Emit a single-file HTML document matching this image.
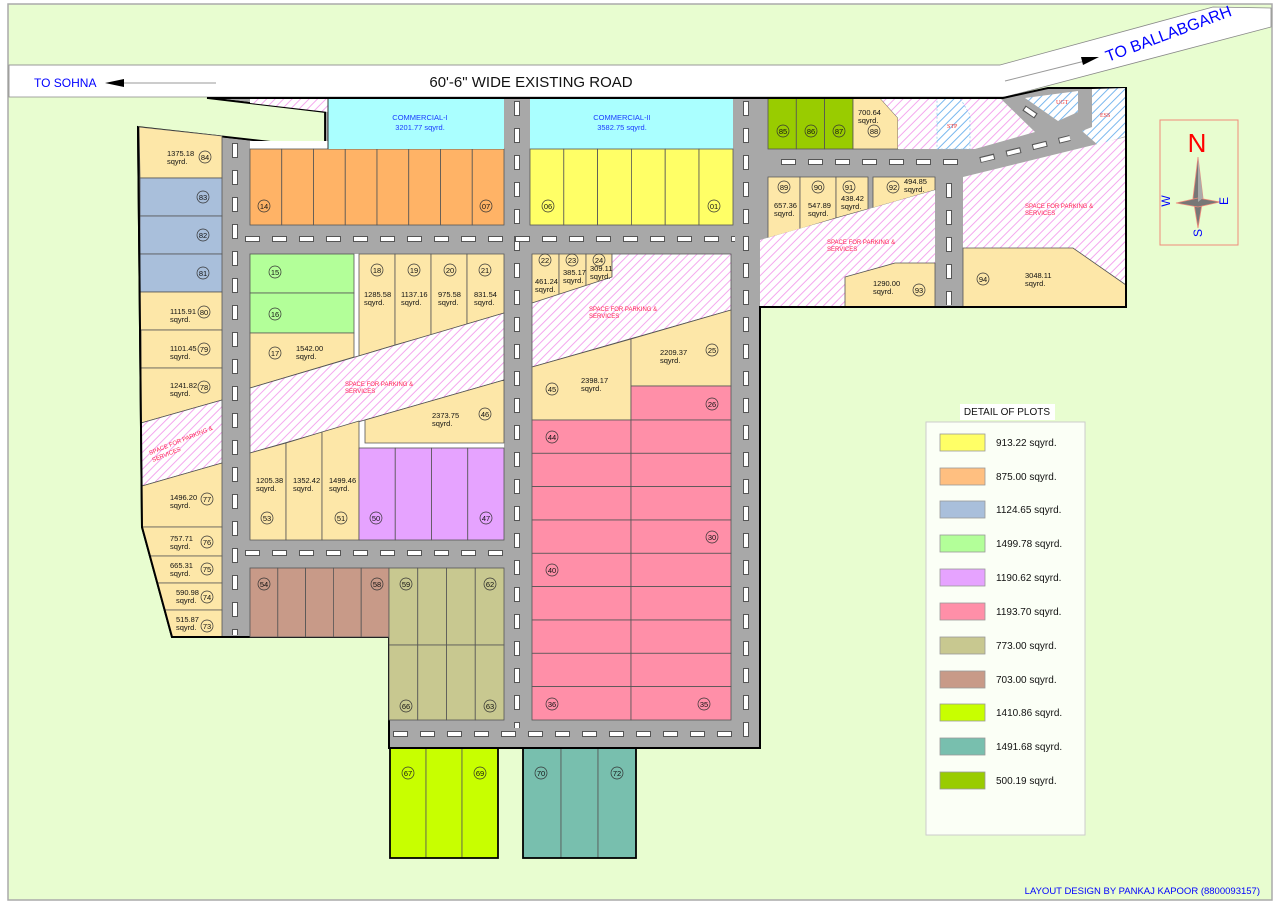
<!DOCTYPE html>
<html><head><meta charset="utf-8"><style>
html,body{margin:0;padding:0;background:#fff;}
svg{display:block;font-family:"Liberation Sans",Verdana,sans-serif;}
.p{stroke:#555;stroke-width:0.8;}
.t{font-size:7.5px;fill:#111;}
.c circle{fill:none;stroke:#333;stroke-width:0.7;}
.r{font-size:6px;fill:#ff2255;}
</style></head><body>
<svg width="1280" height="909" viewBox="0 0 1280 909" xmlns="http://www.w3.org/2000/svg">
<defs>
<pattern id="ph" width="6" height="6" patternUnits="userSpaceOnUse" patternTransform="rotate(45)">
<rect width="6" height="6" fill="#fff"/><line x1="0" y1="0" x2="0" y2="6" stroke="#f4a8ee" stroke-width="2"/></pattern>
<pattern id="bh" width="6" height="6" patternUnits="userSpaceOnUse" patternTransform="rotate(45)">
<rect width="6" height="6" fill="#fff"/><line x1="0" y1="0" x2="0" y2="6" stroke="#7ab8ee" stroke-width="2"/></pattern>
</defs>
<rect x="8" y="4" width="1264" height="896" fill="#e8fdd0" stroke="#aaa" stroke-width="1.5"/>
<polygon points="9,65 1000,65 1213,7 1271,8 1271,27 1005,97 9,97" fill="#fff" stroke="#888" stroke-width="0.8"/>
<line x1="9" y1="65" x2="1000" y2="65" stroke="#999"/>
<text x="34" y="87" font-size="12" fill="#00f">TO SOHNA</text>
<line x1="120" y1="83" x2="216" y2="83" stroke="#999" stroke-width="1"/>
<polygon points="105,83 124,79 124,87" fill="#000"/>
<text x="531" y="87" font-size="15" text-anchor="middle" fill="#111">60'-6" WIDE EXISTING ROAD</text>
<line x1="1005" y1="81" x2="1085" y2="61" stroke="#999"/>
<polygon points="1099,57 1081,57 1083,65" fill="#000"/>
<text x="1108" y="62" font-size="16" fill="#00f" transform="rotate(-20.5 1108 62)">TO BALLABGARH</text>

<polygon points="207,98 1003,98 1048,88 1126,88 1126,307 760,307 760,748 389,748 389,637 172,637 142,527 138,127 325,148 325,112" fill="#a8a8a8" stroke="#000" stroke-width="2"/>
<polygon points="207,98 325,112 325,148 138,127 138,98" fill="#e8fdd0"/>
<polyline points="207,98 325,112 325,148 138,127" fill="none" stroke="#000" stroke-width="1.8"/>
<polygon points="250,98 328,98 328,112 250,103" fill="url(#ph)"/>
<rect x="250" y="141" width="78" height="8" fill="#fff"/>

<g fill="none">
<line x1="235" y1="143" x2="235" y2="635" stroke="#555" stroke-width="6" stroke-dasharray="15 12"/>
<line x1="235" y1="144" x2="235" y2="635" stroke="#fff" stroke-width="4" stroke-dasharray="13 14"/>
<line x1="517" y1="101" x2="517" y2="728" stroke="#555" stroke-width="6" stroke-dasharray="15 12"/>
<line x1="517" y1="102" x2="517" y2="728" stroke="#fff" stroke-width="4" stroke-dasharray="13 14"/>
<line x1="746" y1="101" x2="746" y2="740" stroke="#555" stroke-width="6" stroke-dasharray="15 12"/>
<line x1="746" y1="102" x2="746" y2="740" stroke="#fff" stroke-width="4" stroke-dasharray="13 14"/>
<line x1="949" y1="183" x2="949" y2="305" stroke="#555" stroke-width="6" stroke-dasharray="15 12"/>
<line x1="949" y1="184" x2="949" y2="305" stroke="#fff" stroke-width="4" stroke-dasharray="13 14"/>
<line x1="245" y1="239" x2="735" y2="239" stroke="#555" stroke-width="6" stroke-dasharray="15 12"/>
<line x1="246" y1="239" x2="735" y2="239" stroke="#fff" stroke-width="4" stroke-dasharray="13 14"/>
<line x1="245" y1="553" x2="505" y2="553" stroke="#555" stroke-width="6" stroke-dasharray="15 12"/>
<line x1="246" y1="553" x2="505" y2="553" stroke="#fff" stroke-width="4" stroke-dasharray="13 14"/>
<line x1="393" y1="734" x2="740" y2="734" stroke="#555" stroke-width="6" stroke-dasharray="15 12"/>
<line x1="394" y1="734" x2="740" y2="734" stroke="#fff" stroke-width="4" stroke-dasharray="13 14"/>
<line x1="781" y1="162" x2="963" y2="162" stroke="#555" stroke-width="6" stroke-dasharray="15 12"/>
<line x1="782" y1="162" x2="963" y2="162" stroke="#fff" stroke-width="4" stroke-dasharray="13 14"/>
<line x1="980" y1="160" x2="1070" y2="138" stroke="#555" stroke-width="6" stroke-dasharray="15 12"/>
<line x1="981" y1="160" x2="1070" y2="138" stroke="#fff" stroke-width="4" stroke-dasharray="13 14"/>
<line x1="1024" y1="108" x2="1036" y2="116" stroke="#555" stroke-width="6"/>
<line x1="1025" y1="108.5" x2="1035" y2="115.5" stroke="#fff" stroke-width="4"/>
</g>

<g class="p">
<polygon points="139,127 222,136 222,178 140,178" fill="#fde7a8"/>
<rect x="140" y="178" width="82" height="38" fill="#a9bfdb"/>
<rect x="140" y="216" width="82" height="38" fill="#a9bfdb"/>
<rect x="140" y="254" width="82" height="38" fill="#a9bfdb"/>
<rect x="140" y="292" width="82" height="38" fill="#fde7a8"/>
<rect x="141" y="330" width="81" height="38" fill="#fde7a8"/>
<polygon points="141,368 222,368 222,400 141,423" fill="#fde7a8"/>
<polygon points="141,423 222,400 222,463 142,486" fill="url(#ph)"/>
<polygon points="142,486 222,463 222,527 142,527" fill="#fde7a8"/>
<polygon points="142,527 222,527 222,556 150,556" fill="#fde7a8"/>
<polygon points="150,556 222,556 222,583 157,583" fill="#fde7a8"/>
<polygon points="157,583 222,583 222,610 165,610" fill="#fde7a8"/>
<polygon points="165,610 222,610 222,637 172,637" fill="#fde7a8"/>
</g>
<polyline points="138,127 142,527 172,637 248,637" fill="none" stroke="#000" stroke-width="2"/>

<g class="p" fill="#ffb366">
<rect x="250" y="149" width="31.75" height="76"/><rect x="281.75" y="149" width="31.75" height="76"/>
<rect x="313.5" y="149" width="31.75" height="76"/><rect x="345.25" y="149" width="31.75" height="76"/>
<rect x="377" y="149" width="31.75" height="76"/><rect x="408.75" y="149" width="31.75" height="76"/>
<rect x="440.5" y="149" width="31.75" height="76"/><rect x="472.25" y="149" width="31.75" height="76"/>
</g>
<rect x="328" y="98" width="176" height="51" fill="#aaffff"/>
<line x1="328" y1="98" x2="328" y2="149" stroke="#333" stroke-width="1"/>
<text x="420" y="120" font-size="7.5" fill="#1a3aff" text-anchor="middle">COMMERCIAL-I</text>
<text x="420" y="130" font-size="7.5" fill="#1a3aff" text-anchor="middle">3201.77 sqyrd.</text>
<rect x="530" y="98" width="203" height="51" fill="#aaffff"/>
<text x="622" y="120" font-size="7.5" fill="#1a3aff" text-anchor="middle">COMMERCIAL-II</text>
<text x="622" y="130" font-size="7.5" fill="#1a3aff" text-anchor="middle">3582.75 sqyrd.</text>
<g class="p" fill="#ffff66">
<rect x="530" y="149" width="33.8" height="76"/><rect x="563.8" y="149" width="33.8" height="76"/>
<rect x="597.6" y="149" width="33.8" height="76"/><rect x="631.4" y="149" width="33.8" height="76"/>
<rect x="665.2" y="149" width="33.8" height="76"/><rect x="699" y="149" width="34" height="76"/>
</g>

<rect x="250" y="254" width="254" height="286" fill="#fff"/>
<g class="p">
<rect x="250" y="254" width="104" height="39" fill="#b3ff99"/>
<rect x="250" y="293" width="104" height="40" fill="#b3ff99"/>
<polygon points="250,333 354,333 354,357 250,388" fill="#fde7a8"/>
<polygon points="359,254 395,254 395,345 359,356" fill="#fde7a8"/>
<polygon points="395,254 431,254 431,335 395,345" fill="#fde7a8"/>
<polygon points="431,254 467,254 467,324 431,335" fill="#fde7a8"/>
<polygon points="467,254 504,254 504,313 467,324" fill="#fde7a8"/>
<polygon points="250,388 504,313 504,380 250,453" fill="url(#ph)"/>
<polygon points="365,420 504,380 504,443 365,443" fill="#fde7a8"/>
<polygon points="250,453 286,443 286,540 250,540" fill="#fde7a8"/>
<polygon points="286,443 322,432 322,540 286,540" fill="#fde7a8"/>
<polygon points="322,432 359,421 359,540 322,540" fill="#fde7a8"/>
<rect x="359" y="448" width="36.25" height="92" fill="#e6a3ff"/><rect x="395.25" y="448" width="36.25" height="92" fill="#e6a3ff"/>
<rect x="431.5" y="448" width="36.25" height="92" fill="#e6a3ff"/><rect x="467.75" y="448" width="36.25" height="92" fill="#e6a3ff"/>
</g>
<text class="r" x="345" y="386">SPACE FOR PARKING &amp;</text><text class="r" x="345" y="393">SERVICES</text>

<g class="p">
<rect x="250" y="568" width="27.8" height="69" fill="#c89a88"/><rect x="277.8" y="568" width="27.8" height="69" fill="#c89a88"/>
<rect x="305.6" y="568" width="27.8" height="69" fill="#c89a88"/><rect x="333.4" y="568" width="27.8" height="69" fill="#c89a88"/>
<rect x="361.2" y="568" width="27.8" height="69" fill="#c89a88"/>
<rect x="389" y="568" width="28.75" height="77" fill="#c8c890"/><rect x="417.75" y="568" width="28.75" height="77" fill="#c8c890"/>
<rect x="446.5" y="568" width="28.75" height="77" fill="#c8c890"/><rect x="475.25" y="568" width="28.75" height="77" fill="#c8c890"/>
<rect x="389" y="645" width="28.75" height="75" fill="#c8c890"/><rect x="417.75" y="645" width="28.75" height="75" fill="#c8c890"/>
<rect x="446.5" y="645" width="28.75" height="75" fill="#c8c890"/><rect x="475.25" y="645" width="28.75" height="75" fill="#c8c890"/>
</g>
<g class="p">
<rect x="390" y="748" width="36" height="110" fill="#c8ff00"/><rect x="426" y="748" width="36" height="110" fill="#c8ff00"/><rect x="462" y="748" width="36" height="110" fill="#c8ff00"/>
<rect x="523" y="748" width="38" height="110" fill="#78bfae"/><rect x="561" y="748" width="37" height="110" fill="#78bfae"/><rect x="598" y="748" width="38" height="110" fill="#78bfae"/>
</g>
<rect x="390" y="748" width="108" height="110" fill="none" stroke="#000" stroke-width="1.8"/>
<rect x="523" y="748" width="113" height="110" fill="none" stroke="#000" stroke-width="1.8"/>

<g class="p">
<polygon points="532,254 559,254 559,297 532,303" fill="#fde7a8"/>
<polygon points="559,254 586,254 586,288 559,297" fill="#fde7a8"/>
<polygon points="586,254 612,254 612,277 586,288" fill="#fde7a8"/>
<polygon points="532,303 612,277 612,254 731,254 731,310 532,367" fill="url(#ph)"/>
<polygon points="532,367 631,339 631,420 532,420" fill="#fde7a8"/>
<polygon points="631,339 731,310 731,386 631,386" fill="#fde7a8"/>
<rect x="631" y="386" width="100" height="34" fill="#ff8fa8"/>
</g>
<g class="p" fill="#ff8fa8">
<rect x="532" y="420" width="99" height="33.3"/><rect x="631" y="420" width="100" height="33.3"/>
<rect x="532" y="453.3" width="99" height="33.3"/><rect x="631" y="453.3" width="100" height="33.3"/>
<rect x="532" y="486.6" width="99" height="33.3"/><rect x="631" y="486.6" width="100" height="33.3"/>
<rect x="532" y="520" width="99" height="33.3"/><rect x="631" y="520" width="100" height="33.3"/>
<rect x="532" y="553.3" width="99" height="33.3"/><rect x="631" y="553.3" width="100" height="33.3"/>
<rect x="532" y="586.6" width="99" height="33.3"/><rect x="631" y="586.6" width="100" height="33.3"/>
<rect x="532" y="620" width="99" height="33.3"/><rect x="631" y="620" width="100" height="33.3"/>
<rect x="532" y="653.3" width="99" height="33.3"/><rect x="631" y="653.3" width="100" height="33.3"/>
<rect x="532" y="686.6" width="99" height="33.4"/><rect x="631" y="686.6" width="100" height="33.4"/>
</g>
<text class="r" x="589" y="311">SPACE FOR PARKING &amp;</text><text class="r" x="589" y="318">SERVICES</text>

<g class="p">
<rect x="768" y="98" width="28.3" height="51" fill="#99cc00"/><rect x="796.3" y="98" width="28.3" height="51" fill="#99cc00"/><rect x="824.6" y="98" width="28.4" height="51" fill="#99cc00"/>
<polygon points="853,98 880,98 898,118 898,149 853,149" fill="#fde7a8"/>
</g>
<polygon points="880,98 1000,98 1035,132 975,149 898,149 898,118" fill="url(#ph)"/>
<polygon points="937,98 960,98 970,115 970,149 937,149" fill="url(#bh)" stroke="#7ab8ee" stroke-width="0.6" stroke-dasharray="2 2"/>
<text x="947" y="128" font-size="6" fill="#e33" font-family="Liberation Serif">STP</text>
<polygon points="1025,98 1078,91 1078,112 1058,121" fill="url(#bh)"/>
<text x="1056" y="104" font-size="6" fill="#e33" font-family="Liberation Serif">UGT</text>
<polygon points="1092,89 1126,88 1126,136 1098,145 1082,131 1092,127" fill="url(#bh)"/>
<text x="1100" y="117" font-size="6" fill="#e33" font-family="Liberation Serif">ESS</text>
<g class="p">
<polygon points="768,177 800,177 800,229 768,238" fill="#fde7a8"/>
<polygon points="800,177 836,177 836,218 800,229" fill="#fde7a8"/>
<polygon points="836,177 868,177 868,209 836,218" fill="#fde7a8"/>
<polygon points="873,177 935,177 935,190 873,208" fill="#fde7a8"/>
</g>
<polygon points="760,240 935,190 935,307 760,307" fill="url(#ph)"/>
<polygon class="p" points="845,277 895,263 935,263 935,307 845,307" fill="#fde7a8"/>
<polygon points="963,177 1126,137 1126,307 963,307" fill="url(#ph)"/>
<polygon class="p" points="963,248 1073,248 1126,285 1126,307 963,307" fill="#fde7a8"/>
<text class="r" x="827" y="244">SPACE FOR PARKING &amp;</text><text class="r" x="827" y="251">SERVICES</text>
<text class="r" x="1025" y="208">SPACE FOR PARKING &amp;</text><text class="r" x="1025" y="215">SERVICES</text>
<polyline points="760,307 1126,307 1126,88" fill="none" stroke="#000" stroke-width="2"/>
<polyline points="760,307 760,748 389,748" fill="none" stroke="#000" stroke-width="2"/>
<line x1="207" y1="98" x2="1003" y2="98" stroke="#000" stroke-width="2"/>
<text class="r" transform="rotate(-22 150 455)" x="150" y="455">SPACE FOR PARKING &amp;</text>
<text class="r" transform="rotate(-22 153 462)" x="153" y="462">SERVICES</text>

<g class="t">
<text x="167" y="156">1375.18</text><text x="167" y="164">sqyrd.</text>
<text x="170" y="314">1115.91</text><text x="170" y="322">sqyrd.</text>
<text x="170" y="351">1101.45</text><text x="170" y="359">sqyrd.</text>
<text x="170" y="388">1241.82</text><text x="170" y="396">sqyrd.</text>
<text x="170" y="500">1496.20</text><text x="170" y="508">sqyrd.</text>
<text x="170" y="541">757.71</text><text x="170" y="549">sqyrd.</text>
<text x="170" y="568">665.31</text><text x="170" y="576">sqyrd.</text>
<text x="176" y="595">590.98</text><text x="176" y="603">sqyrd.</text>
<text x="176" y="622">515.87</text><text x="176" y="630">sqyrd.</text>
<text x="296" y="351">1542.00</text><text x="296" y="359">sqyrd.</text>
<text x="364" y="297">1285.58</text><text x="364" y="305">sqyrd.</text>
<text x="401" y="297">1137.16</text><text x="401" y="305">sqyrd.</text>
<text x="438" y="297">975.58</text><text x="438" y="305">sqyrd.</text>
<text x="474" y="297">831.54</text><text x="474" y="305">sqyrd.</text>
<text x="432" y="418">2373.75</text><text x="432" y="426">sqyrd.</text>
<text x="256" y="483">1205.38</text><text x="256" y="491">sqyrd.</text>
<text x="293" y="483">1352.42</text><text x="293" y="491">sqyrd.</text>
<text x="329" y="483">1499.46</text><text x="329" y="491">sqyrd.</text>
<text x="535" y="284">461.24</text><text x="535" y="292">sqyrd.</text>
<text x="563" y="275">385.17</text><text x="563" y="283">sqyrd.</text>
<text x="590" y="271">309.11</text><text x="590" y="279">sqyrd.</text>
<text x="581" y="383">2398.17</text><text x="581" y="391">sqyrd.</text>
<text x="660" y="355">2209.37</text><text x="660" y="363">sqyrd.</text>
<text x="858" y="115">700.64</text><text x="858" y="123">sqyrd.</text>
<text x="774" y="208">657.36</text><text x="774" y="216">sqyrd.</text>
<text x="808" y="208">547.89</text><text x="808" y="216">sqyrd.</text>
<text x="841" y="201">438.42</text><text x="841" y="209">sqyrd.</text>
<text x="904" y="184">494.85</text><text x="904" y="192">sqyrd.</text>
<text x="873" y="286">1290.00</text><text x="873" y="294">sqyrd.</text>
<text x="1025" y="278">3048.11</text><text x="1025" y="286">sqyrd.</text>
</g>

<g class="c" font-size="7.5" text-anchor="middle" fill="#111">
<g><circle cx="205" cy="157" r="6"/><text x="205" y="160">84</text></g>
<g><circle cx="203" cy="197" r="6"/><text x="203" y="200">83</text></g>
<g><circle cx="203" cy="235" r="6"/><text x="203" y="238">82</text></g>
<g><circle cx="203" cy="273" r="6"/><text x="203" y="276">81</text></g>
<g><circle cx="204" cy="312" r="6"/><text x="204" y="315">80</text></g>
<g><circle cx="204" cy="349" r="6"/><text x="204" y="352">79</text></g>
<g><circle cx="204" cy="387" r="6"/><text x="204" y="390">78</text></g>
<g><circle cx="207" cy="499" r="6"/><text x="207" y="502">77</text></g>
<g><circle cx="207" cy="542" r="6"/><text x="207" y="545">76</text></g>
<g><circle cx="207" cy="569" r="6"/><text x="207" y="572">75</text></g>
<g><circle cx="207" cy="597" r="6"/><text x="207" y="600">74</text></g>
<g><circle cx="207" cy="626" r="6"/><text x="207" y="629">73</text></g>
<g><circle cx="264" cy="206" r="6"/><text x="264" y="209">14</text></g>
<g><circle cx="486" cy="206" r="6"/><text x="486" y="209">07</text></g>
<g><circle cx="548" cy="206" r="6"/><text x="548" y="209">06</text></g>
<g><circle cx="714" cy="206" r="6"/><text x="714" y="209">01</text></g>
<g><circle cx="275" cy="272" r="6"/><text x="275" y="275">15</text></g>
<g><circle cx="275" cy="314" r="6"/><text x="275" y="317">16</text></g>
<g><circle cx="275" cy="353" r="6"/><text x="275" y="356">17</text></g>
<g><circle cx="377" cy="270" r="6"/><text x="377" y="273">18</text></g>
<g><circle cx="414" cy="270" r="6"/><text x="414" y="273">19</text></g>
<g><circle cx="450" cy="270" r="6"/><text x="450" y="273">20</text></g>
<g><circle cx="485" cy="270" r="6"/><text x="485" y="273">21</text></g>
<g><circle cx="485" cy="414" r="6"/><text x="485" y="417">46</text></g>
<g><circle cx="267" cy="518" r="6"/><text x="267" y="521">53</text></g>
<g><circle cx="341" cy="518" r="6"/><text x="341" y="521">51</text></g>
<g><circle cx="376" cy="518" r="6"/><text x="376" y="521">50</text></g>
<g><circle cx="486" cy="518" r="6"/><text x="486" y="521">47</text></g>
<g><circle cx="264" cy="584" r="6"/><text x="264" y="587">54</text></g>
<g><circle cx="377" cy="584" r="6"/><text x="377" y="587">58</text></g>
<g><circle cx="406" cy="584" r="6"/><text x="406" y="587">59</text></g>
<g><circle cx="490" cy="584" r="6"/><text x="490" y="587">62</text></g>
<g><circle cx="406" cy="706" r="6"/><text x="406" y="709">66</text></g>
<g><circle cx="490" cy="706" r="6"/><text x="490" y="709">63</text></g>
<g><circle cx="408" cy="773" r="6"/><text x="408" y="776">67</text></g>
<g><circle cx="480" cy="773" r="6"/><text x="480" y="776">69</text></g>
<g><circle cx="541" cy="773" r="6"/><text x="541" y="776">70</text></g>
<g><circle cx="617" cy="773" r="6"/><text x="617" y="776">72</text></g>
<g><circle cx="545" cy="260" r="6"/><text x="545" y="263">22</text></g>
<g><circle cx="572" cy="260" r="6"/><text x="572" y="263">23</text></g>
<g><circle cx="599" cy="260" r="6"/><text x="599" y="263">24</text></g>
<g><circle cx="552" cy="389" r="6"/><text x="552" y="392">45</text></g>
<g><circle cx="712" cy="350" r="6"/><text x="712" y="353">25</text></g>
<g><circle cx="712" cy="404" r="6"/><text x="712" y="407">26</text></g>
<g><circle cx="552" cy="437" r="6"/><text x="552" y="440">44</text></g>
<g><circle cx="712" cy="537" r="6"/><text x="712" y="540">30</text></g>
<g><circle cx="552" cy="570" r="6"/><text x="552" y="573">40</text></g>
<g><circle cx="552" cy="704" r="6"/><text x="552" y="707">36</text></g>
<g><circle cx="704" cy="704" r="6"/><text x="704" y="707">35</text></g>
<g><circle cx="783" cy="131" r="6"/><text x="783" y="134">85</text></g>
<g><circle cx="811" cy="131" r="6"/><text x="811" y="134">86</text></g>
<g><circle cx="839" cy="131" r="6"/><text x="839" y="134">87</text></g>
<g><circle cx="874" cy="131" r="6"/><text x="874" y="134">88</text></g>
<g><circle cx="784" cy="187" r="6"/><text x="784" y="190">89</text></g>
<g><circle cx="818" cy="187" r="6"/><text x="818" y="190">90</text></g>
<g><circle cx="849" cy="187" r="6"/><text x="849" y="190">91</text></g>
<g><circle cx="893" cy="187" r="6"/><text x="893" y="190">92</text></g>
<g><circle cx="919" cy="290" r="6"/><text x="919" y="293">93</text></g>
<g><circle cx="983" cy="279" r="6"/><text x="983" y="282">94</text></g>
</g>

<rect x="1160" y="120" width="78" height="125" fill="none" stroke="#f08a7a" stroke-width="1"/>
<text x="1197" y="152" font-size="26" fill="#f00" text-anchor="middle">N</text>
<polygon points="1198,157 1203,198 1198,228 1193,198" fill="#777" stroke="#f08a7a" stroke-width="0.8"/>
<polygon points="1176,203 1198,198 1220,202 1198,207" fill="#777" stroke="#f08a7a" stroke-width="0.8"/>
<polygon points="1198,157 1203,198 1198,202" fill="#aaa"/>
<text x="1170" y="201" font-size="12" fill="#00f" text-anchor="middle" transform="rotate(-90 1170 201)">W</text>
<text x="1228" y="201" font-size="12" fill="#00f" text-anchor="middle" transform="rotate(-90 1228 201)">E</text>
<text x="1198" y="233" font-size="12" fill="#00f" text-anchor="middle" transform="rotate(-90 1198 233)" dy="4">S</text>

<rect x="960" y="404" width="95" height="16" fill="#fff"/>
<text x="1007" y="415" font-size="10" text-anchor="middle" fill="#111">DETAIL OF  PLOTS</text>
<rect x="926" y="422" width="159" height="413" fill="#fbfff6" stroke="#ccc"/>
<g stroke="#999" stroke-width="0.8">
<rect x="940" y="434" width="45" height="17" fill="#ffff66"/>
<rect x="940" y="468" width="45" height="17" fill="#ffbf80"/>
<rect x="940" y="501" width="45" height="17" fill="#a9bfdb"/>
<rect x="940" y="535" width="45" height="17" fill="#b3ff99"/>
<rect x="940" y="569" width="45" height="17" fill="#e6a3ff"/>
<rect x="940" y="603" width="45" height="17" fill="#ff8fa8"/>
<rect x="940" y="637" width="45" height="17" fill="#c8c890"/>
<rect x="940" y="671" width="45" height="17" fill="#c89a88"/>
<rect x="940" y="704" width="45" height="17" fill="#c8ff00"/>
<rect x="940" y="738" width="45" height="17" fill="#78bfae"/>
<rect x="940" y="772" width="45" height="17" fill="#99cc00"/>
</g>
<g font-size="10" fill="#111">
<text x="996" y="446">913.22 sqyrd.</text>
<text x="996" y="480">875.00 sqyrd.</text>
<text x="996" y="513">1124.65 sqyrd.</text>
<text x="996" y="547">1499.78 sqyrd.</text>
<text x="996" y="581">1190.62 sqyrd.</text>
<text x="996" y="615">1193.70 sqyrd.</text>
<text x="996" y="649">773.00 sqyrd.</text>
<text x="996" y="683">703.00 sqyrd.</text>
<text x="996" y="716">1410.86 sqyrd.</text>
<text x="996" y="750">1491.68 sqyrd.</text>
<text x="996" y="784">500.19 sqyrd.</text>
</g>
<text x="1260" y="894" font-size="9.5" fill="#00f" text-anchor="end">LAYOUT DESIGN BY PANKAJ KAPOOR (8800093157)</text>
</svg>
</body></html>
